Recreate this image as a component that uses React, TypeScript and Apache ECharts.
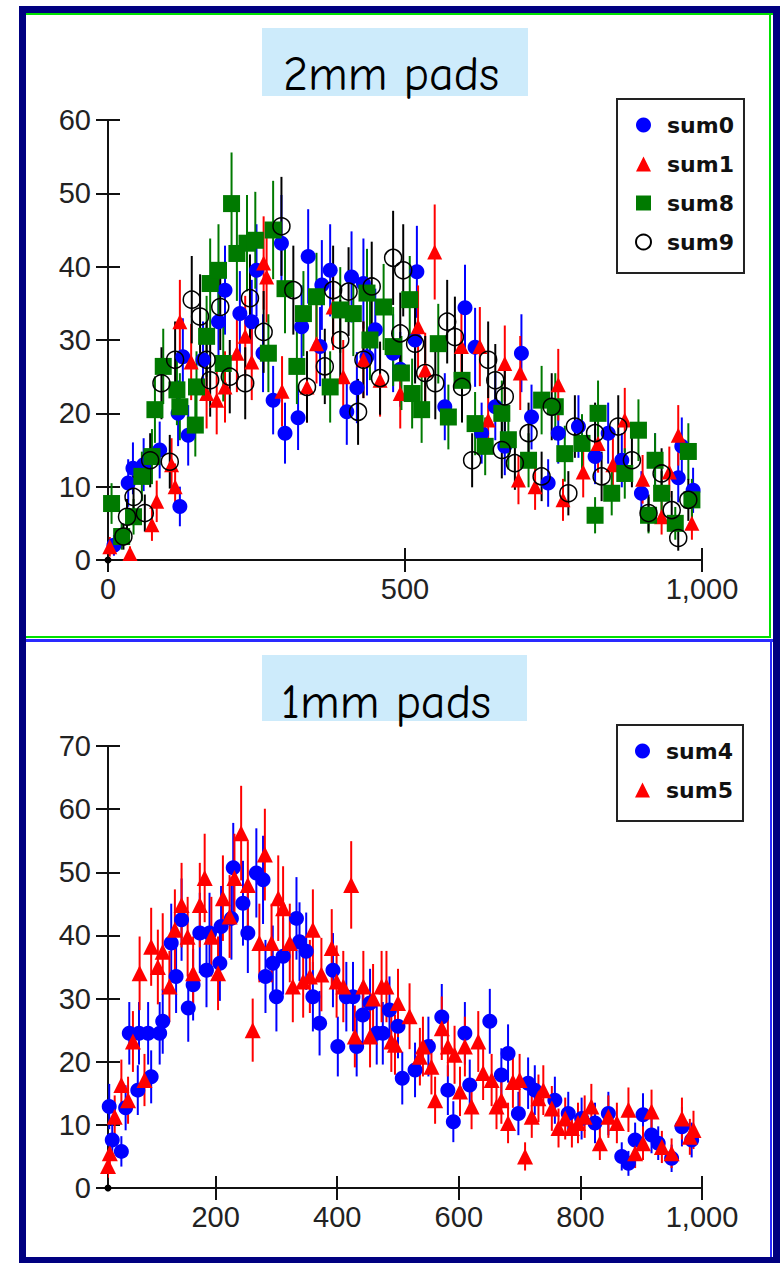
import React, { useEffect, useRef } from 'react';
import * as echarts from 'echarts';

// ---------- 2mm pads ----------
const sum0: [number, number][] = [
  [10, 2], [34, 10.5], [42, 12.5], [60, 13], [87, 15], [118, 20], [121, 7.3], [126, 27.7], [135, 17],
  [160, 27.3], [186, 32.5], [197, 36.8], [222, 33.6], [242, 32.5], [250, 39.5], [261, 28.2], [278, 21.8],
  [292, 43.2], [298, 17.3], [320, 19.4], [326, 31.8], [337, 41.4], [357, 29.1], [360, 37.5], [374, 39.5],
  [402, 20.2], [410, 38.6], [419, 23.5], [430, 37.7], [436, 27.7], [450, 31.4], [480, 28.2], [492, 26],
  [517, 30], [520, 39.3], [567, 20.9], [601, 34.4], [618, 29], [629, 17.3], [652, 20.9], [668, 15.5],
  [696, 28.2], [713, 19.5], [741, 10.5], [758, 17.3], [792, 18.2], [820, 14.1], [842, 17.3], [865, 13.6],
  [898, 9.1], [921, 13.6], [960, 11.2], [966, 15.5], [985, 9.5],
];
const sum1: [number, number][] = [
  [3, 1.8], [37, 0.9], [74, 4.8], [82, 8], [107, 13], [113, 10], [121, 32.5], [140, 27], [166, 22.7],
  [183, 21.8], [197, 23.6], [217, 28.2], [231, 30.5], [242, 27], [262, 40.5], [267, 38.6], [293, 23],
  [335, 23.6], [351, 29.5], [379, 34.5], [396, 25], [430, 27.3], [458, 24.5], [492, 22.7], [522, 31.8],
  [534, 25.9], [550, 42], [595, 29.1], [626, 29.1], [640, 19.1], [668, 26.8], [691, 10.9], [694, 25.5],
  [719, 10], [758, 23.9], [766, 8.2], [800, 12], [825, 15.9], [850, 13], [870, 19.1], [900, 11],
  [932, 5.9], [945, 12], [960, 17], [983, 5],
];
const sum8: [number, number][] = [
  [6, 7.7], [23, 3.2], [43, 5.9], [57, 11.4], [74, 14.1], [79, 20.5], [93, 26.4], [116, 23.2], [121, 20.9],
  [147, 18.4], [149, 23.6], [166, 30.5], [172, 37.7], [186, 39.5], [194, 26.8], [208, 48.6], [217, 41.8],
  [234, 43.2], [248, 43.6], [270, 28.2], [278, 45], [298, 37], [318, 26.4], [329, 33.6], [351, 35.9],
  [374, 23.6], [391, 34.1], [413, 33.6], [436, 36.4], [441, 30], [464, 34.5], [480, 29.1], [494, 25.5],
  [508, 35.5], [512, 22.7], [528, 20.5], [556, 29.5], [573, 19.5], [596, 24.5], [618, 18.6], [635, 15.5],
  [663, 20], [674, 16.4], [708, 13.6], [730, 21.8], [753, 20.9], [769, 14.5], [798, 15.9], [820, 6.1],
  [825, 20], [848, 9.1], [870, 11.8], [893, 17.7], [910, 6.1], [921, 13.6], [932, 9.1], [955, 5],
  [977, 14.8], [983, 8.2],
];
const sum9: [number, number][] = [
  [26, 3.2], [32, 5.9], [43, 8.6], [62, 6.4], [71, 13.6], [90, 24.1], [104, 13.4], [113, 27.3], [141, 35.5],
  [155, 33.2], [166, 27.3], [172, 24.5], [189, 34.5], [205, 25], [231, 24.1], [239, 35.7], [262, 31.1],
  [292, 45.5], [312, 36.8], [335, 23.6], [365, 26.4], [379, 36.8], [391, 30], [405, 36.6], [421, 20.2],
  [430, 27.3], [444, 37.3], [458, 24.8], [480, 41.2], [492, 30.9], [497, 39.5], [517, 29.5], [534, 25.5],
  [551, 24.1], [571, 32.5], [584, 30.4], [596, 23.6], [613, 13.6], [640, 27.3], [652, 24.5], [663, 15],
  [668, 22.3], [685, 13.2], [708, 17.3], [730, 11.4], [747, 20.9], [775, 9.1], [786, 18.2], [820, 17.3],
  [831, 11.4], [859, 18.2], [882, 13.6], [910, 6.4], [932, 11.8], [949, 6.8], [960, 3], [977, 8.2],
];

// ---------- 1mm pads ----------
const sum4: [number, number][] = [
  [25, 12.9], [30, 7.6], [45, 5.8], [52, 12.7], [58, 24.5], [72, 15.5], [74, 24.5], [89, 24.5], [94, 17.6],
  [108, 24.5], [113, 26.4], [127, 38.8], [135, 33.5], [144, 42.5], [155, 28.5], [163, 32.2], [174, 40.4],
  [185, 34.5], [190, 40.4], [207, 35.6], [209, 41.4], [226, 42.7], [229, 50.7], [245, 45.1], [253, 40.4],
  [267, 49.9], [278, 48.8], [282, 33.5], [294, 35.6], [300, 30.3], [311, 36.7], [333, 42.7], [338, 39],
  [349, 37.5], [360, 30.3], [371, 26.1], [393, 34.5], [401, 22.4], [415, 30.3], [426, 30.3], [432, 22.4],
  [442, 27.4], [454, 29.3], [465, 24.5], [475, 24.5], [486, 28.2], [500, 25.6], [507, 17.4], [528, 18.7],
  [550, 22.4], [572, 27.1], [582, 15.5], [591, 10.5], [610, 24.5], [618, 16.3], [651, 26.4], [670, 17.9],
  [681, 21.3], [698, 11.8], [714, 16.6], [725, 15.5], [758, 13.9], [780, 11.8], [802, 11], [824, 10.3],
  [846, 11.8], [868, 5], [879, 3.9], [890, 7.6], [903, 11.6], [917, 8.4], [928, 7.1], [950, 4.7],
  [967, 9.7], [983, 7.6],
];
const sum5: [number, number][] = [
  [23, 3.5], [26, 5.5], [34, 11.3], [45, 16.3], [56, 13.9], [64, 23.2], [75, 34], [83, 17.1], [94, 38.2],
  [105, 35], [113, 37.4], [124, 31.9], [133, 40.9], [144, 44.8], [154, 39.8], [163, 34], [174, 44.8],
  [182, 49.1], [193, 39.8], [204, 34], [212, 45.9], [223, 43], [231, 49.1], [242, 56.2], [253, 48],
  [261, 25], [272, 38.8], [281, 52.8], [292, 38.8], [303, 45.9], [311, 44.3], [322, 38.8], [327, 31.9],
  [344, 32.7], [355, 33.5], [360, 40.9], [374, 33.8], [391, 38], [399, 32.7], [410, 31.9], [423, 48],
  [429, 24], [443, 31.9], [454, 24], [459, 30], [473, 31.9], [481, 31.9], [489, 23.2], [495, 22.7],
  [500, 29.3], [519, 27.2], [536, 20.8], [541, 22.4], [555, 19.2], [561, 13.9], [572, 25.3], [582, 22.4],
  [593, 21.1], [602, 15.3], [610, 22.4], [621, 12.9], [632, 23.2], [640, 18.2], [654, 17.1], [662, 12.9],
  [670, 13.9], [681, 10.3], [689, 16.8], [700, 17.1], [709, 5], [720, 11.3], [731, 14.2], [739, 15.5],
  [753, 12.6], [764, 9.5], [775, 11], [786, 9.5], [796, 10.3], [807, 11.3], [818, 12.9], [832, 7.1],
  [846, 11.3], [860, 10.3], [879, 12.4], [890, 5.5], [903, 7.1], [917, 12.1], [934, 6.5], [950, 5.5],
  [967, 11], [980, 8.1], [986, 9.2],
];

const topXTicks = [0, 500, 1000];
const bottomXTicks = [200, 400, 600, 800, 1000];
const topTitle = '2mm pads';
const bottomTitle = '1mm pads';

const AXIS_COLOR = '#111';
const LABEL_FONT = "'Liberation Sans', Arial, sans-serif";
const TITLE_FONT = "'Comic Sans MS', 'Comic Neue', 'Liberation Sans', sans-serif";
const LEGEND_FONT = "'DejaVu Sans', Verdana, sans-serif";

const fmt = (v: number) => v.toLocaleString('en-US');

function mainXAxis(grid: number, min: number, ticks: number[]) {
  return {
    type: 'value', gridIndex: grid, position: 'bottom', min, max: 1000,
    axisLine: { show: true, onZero: false, lineStyle: { color: AXIS_COLOR, width: 2 } },
    axisTick: { show: true, length: 12, customValues: ticks, lineStyle: { color: AXIS_COLOR, width: 2 } },
    axisLabel: { show: true, customValues: ticks, formatter: fmt, margin: 14, fontSize: 29, fontFamily: LABEL_FONT, color: '#222' },
    splitLine: { show: false },
  };
}
function overlayXAxis(grid: number, min: number, ticks: number[]) {
  return {
    type: 'value', gridIndex: grid, position: 'bottom', offset: 0, min, max: 1000,
    axisLine: { show: false },
    axisTick: { show: true, inside: true, length: 12, customValues: ticks, lineStyle: { color: AXIS_COLOR, width: 2 } },
    axisLabel: { show: false },
    splitLine: { show: false },
  };
}
function mainYAxis(grid: number, max: number) {
  return {
    type: 'value', gridIndex: grid, position: 'left', min: 0, max, interval: 10,
    axisLine: { show: true, onZero: false, lineStyle: { color: AXIS_COLOR, width: 2 } },
    axisTick: { show: true, length: 12, lineStyle: { color: AXIS_COLOR, width: 2 } },
    axisLabel: { show: true, margin: 17, fontSize: 29, fontFamily: LABEL_FONT, color: '#222' },
    splitLine: { show: false },
  };
}
function overlayYAxis(grid: number, max: number) {
  return {
    type: 'value', gridIndex: grid, position: 'left', offset: 0, min: 0, max, interval: 10,
    axisLine: { show: false },
    axisTick: { show: true, inside: true, length: 12, lineStyle: { color: AXIS_COLOR, width: 2 } },
    axisLabel: { show: false },
    splitLine: { show: false },
  };
}

function errSeries(name: string, data: [number, number][], color: string, axis: number) {
  return {
    type: 'custom', name: name + ' err', xAxisIndex: axis, yAxisIndex: axis, silent: true, clip: true,
    data: data.map(([x, y]) => [x, y, Math.sqrt(y)]),
    encode: { x: 0, y: 1 },
    renderItem: (_p: any, api: any) => {
      const x = api.value(0), y = api.value(1), e = api.value(2);
      const a = api.coord([x, y + e]);
      const b = api.coord([x, Math.max(0, y - e)]);
      return { type: 'line', shape: { x1: a[0], y1: a[1], x2: b[0], y2: b[1] }, style: { stroke: color, lineWidth: 2 } };
    },
  };
}
function pointSeries(name: string, data: [number, number][], symbol: string, size: number, itemStyle: any, axis: number) {
  return {
    type: 'scatter', name, xAxisIndex: axis, yAxisIndex: axis, data, symbol, symbolSize: size,
    itemStyle: { opacity: 1, ...itemStyle }, silent: true,
  };
}

const legendCommon = {
  orient: 'vertical', left: 617, itemWidth: 15, itemHeight: 15, itemGap: 17, selectedMode: false,
  backgroundColor: '#fff', borderColor: '#222', borderWidth: 2, borderRadius: 0,
  padding: [15, 10, 20, 18],
  textStyle: { fontFamily: LEGEND_FONT, fontWeight: 'bold', fontSize: 22, lineHeight: 22, color: '#111', padding: [0, 0, 0, 11] },
};

const rect = (x: number, y: number, w: number, h: number, fill: string) => ({ type: 'rect', shape: { x, y, width: w, height: h }, style: { fill }, silent: true });

export default function App() {
  const ref = useRef<HTMLDivElement>(null);
  useEffect(() => {
    if (!ref.current) return;
    const chart = echarts.init(ref.current, null, { renderer: 'svg' });
    const option: any = {
      animation: false,
      backgroundColor: '#fff',
      grid: [
        { left: 108, right: 78, top: 120, bottom: 703 },
        { left: 108, right: 78, top: 746, bottom: 75 },
      ],
      xAxis: [mainXAxis(0, 0, topXTicks), overlayXAxis(0, 0, topXTicks), mainXAxis(1, 23, bottomXTicks), overlayXAxis(1, 23, bottomXTicks)],
      yAxis: [mainYAxis(0, 60), overlayYAxis(0, 60), mainYAxis(1, 70), overlayYAxis(1, 70)],
      legend: [
        { ...legendCommon, top: 99, data: ['sum0', 'sum1', 'sum8', 'sum9'] },
        { ...legendCommon, top: 725, data: ['sum4', 'sum5'] },
      ],
      graphic: [
        // outer navy frame
        rect(19, 6, 7, 1257, '#000080'), rect(19, 6, 761, 7, '#000080'),
        rect(773, 6, 7, 1257, '#000080'), rect(19, 1257, 761, 6, '#000080'),
        // top panel green border
        rect(26, 13, 747, 2, '#00e000'), rect(769, 13, 2, 625, '#00e000'), rect(26, 636, 745, 2, '#00e000'),
        // bottom panel blue border
        rect(26, 639, 747, 3, '#2a2aff'), rect(770, 640, 2, 617, '#2a2aff'),
        // title boxes
        rect(262, 28, 266, 68, '#cdebfb'), rect(262, 655, 265, 66, '#cdebfb'),
        { type: 'text', x: 391, y: 74, silent: true, style: { text: topTitle, fontFamily: TITLE_FONT, fontSize: 48, fill: '#000', align: 'center', verticalAlign: 'middle' } },
        { type: 'text', x: 386, y: 702, silent: true, style: { text: bottomTitle, fontFamily: TITLE_FONT, fontSize: 48, fill: '#000', align: 'center', verticalAlign: 'middle' } },
      ],
      series: [
        errSeries('sum0', sum0, '#0000ff', 0), pointSeries('sum0', sum0, 'circle', 15, { color: '#0000ff' }, 0),
        errSeries('sum1', sum1, '#ff0000', 0), pointSeries('sum1', sum1, 'triangle', 15, { color: '#ff0000' }, 0),
        errSeries('sum8', sum8, '#007a00', 0), pointSeries('sum8', sum8, 'rect', 17, { color: '#007a00' }, 0),
        errSeries('sum9', sum9, '#000000', 0), pointSeries('sum9', sum9, 'circle', 17, { color: 'rgba(0,0,0,0)', borderColor: '#000', borderWidth: 1.5 }, 0),
        pointSeries('origin', [[0, 0]], 'circle', 7, { color: '#000' }, 0),
        errSeries('sum4', sum4, '#0000ff', 2), pointSeries('sum4', sum4, 'circle', 15, { color: '#0000ff' }, 2),
        errSeries('sum5', sum5, '#ff0000', 2), pointSeries('sum5', sum5, 'triangle', 16, { color: '#ff0000' }, 2),
        pointSeries('origin2', [[23, 0]], 'circle', 7, { color: '#000' }, 2),
      ],
    };
    chart.setOption(option);
    return () => chart.dispose();
  }, []);
  return <div ref={ref} style={{ position: 'absolute', left: 0, top: 0, width: 780, height: 1263 }} />;
}
